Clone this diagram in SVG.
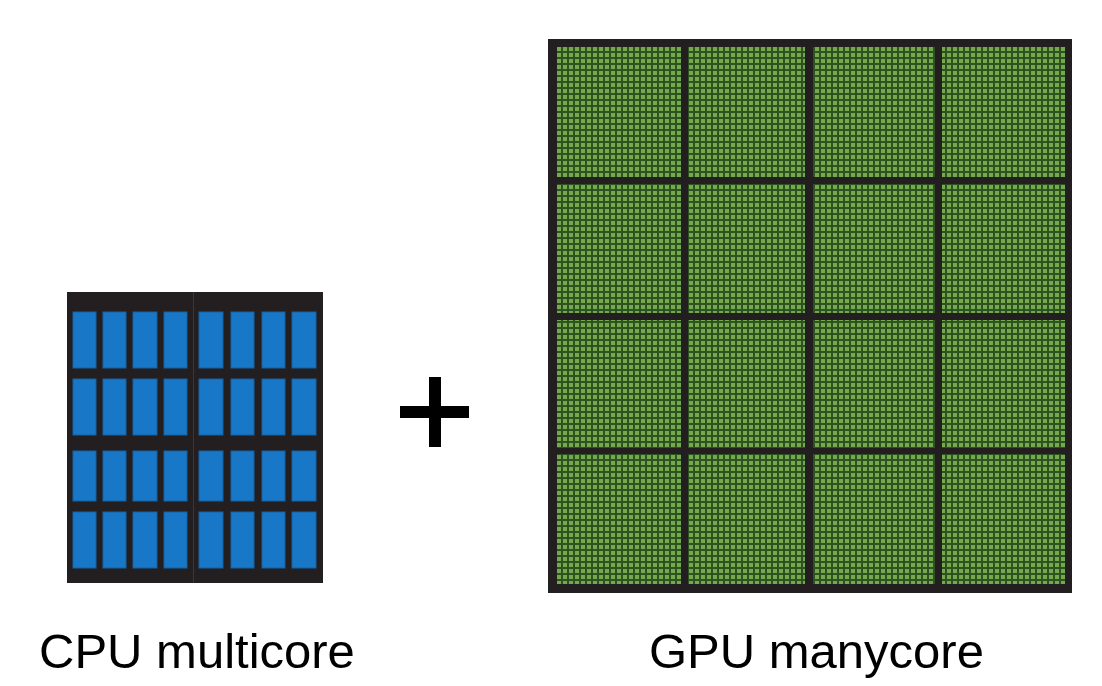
<svg xmlns="http://www.w3.org/2000/svg" width="1102" height="686" viewBox="0 0 1102 686">
<style>
.die{fill:#231f20}
.core{fill:#1877c6;stroke:#1462a3;stroke-width:1}
.sm{fill:url(#sm)}
.lbl{font-family:"Liberation Sans",Arial,sans-serif;font-size:49px;fill:#000}
</style>
<defs>
<pattern id="sm" x="557" y="47" width="6" height="6" patternUnits="userSpaceOnUse">
<rect width="6" height="6" fill="#2c5320"/>
<rect x="0" y="0" width="4" height="4" fill="#76a84e"/>
</pattern>
</defs>
<rect width="1102" height="686" fill="#fff"/>
<g id="cpu">
<rect class="die" x="67" y="292" width="256" height="291"/>
<line x1="193.5" y1="292" x2="193.5" y2="583" stroke="#3b3637" stroke-width="1"/>
<g>
<rect class="core" x="73" y="312" width="23" height="56"/><rect class="core" x="103" y="312" width="23" height="56"/><rect class="core" x="133" y="312" width="24" height="56"/><rect class="core" x="164" y="312" width="23" height="56"/>
<rect class="core" x="199" y="312" width="24" height="56"/><rect class="core" x="231" y="312" width="23" height="56"/><rect class="core" x="262" y="312" width="23" height="56"/><rect class="core" x="292" y="312" width="24" height="56"/>
<rect class="core" x="73" y="379" width="23" height="56"/><rect class="core" x="103" y="379" width="23" height="56"/><rect class="core" x="133" y="379" width="24" height="56"/><rect class="core" x="164" y="379" width="23" height="56"/>
<rect class="core" x="199" y="379" width="24" height="56"/><rect class="core" x="231" y="379" width="23" height="56"/><rect class="core" x="262" y="379" width="23" height="56"/><rect class="core" x="292" y="379" width="24" height="56"/>
<rect class="core" x="73" y="451" width="23" height="50"/><rect class="core" x="103" y="451" width="23" height="50"/><rect class="core" x="133" y="451" width="24" height="50"/><rect class="core" x="164" y="451" width="23" height="50"/>
<rect class="core" x="199" y="451" width="24" height="50"/><rect class="core" x="231" y="451" width="23" height="50"/><rect class="core" x="262" y="451" width="23" height="50"/><rect class="core" x="292" y="451" width="24" height="50"/>
<rect class="core" x="73" y="512" width="23" height="56"/><rect class="core" x="103" y="512" width="23" height="56"/><rect class="core" x="133" y="512" width="24" height="56"/><rect class="core" x="164" y="512" width="23" height="56"/>
<rect class="core" x="199" y="512" width="24" height="56"/><rect class="core" x="231" y="512" width="23" height="56"/><rect class="core" x="262" y="512" width="23" height="56"/><rect class="core" x="292" y="512" width="24" height="56"/>
</g>
</g>
<g id="plus">
<rect x="429" y="377" width="12" height="70" fill="#000"/>
<rect x="400" y="406" width="69" height="12" fill="#000"/>
</g>
<g id="gpu">
<rect class="die" x="548" y="39" width="524" height="554"/>
<rect class="sm" x="557" y="47" width="124" height="130"/><rect class="sm" x="688" y="47" width="117" height="130"/><rect class="sm" x="813" y="47" width="122" height="130"/><rect class="sm" x="942" y="47" width="123" height="130"/>
<rect class="sm" x="557" y="184" width="124" height="129"/><rect class="sm" x="688" y="184" width="117" height="129"/><rect class="sm" x="813" y="184" width="122" height="129"/><rect class="sm" x="942" y="184" width="123" height="129"/>
<rect class="sm" x="557" y="320" width="124" height="128"/><rect class="sm" x="688" y="320" width="117" height="128"/><rect class="sm" x="813" y="320" width="122" height="128"/><rect class="sm" x="942" y="320" width="123" height="128"/>
<rect class="sm" x="557" y="454" width="124" height="130"/><rect class="sm" x="688" y="454" width="117" height="130"/><rect class="sm" x="813" y="454" width="122" height="130"/><rect class="sm" x="942" y="454" width="123" height="130"/>
</g>
<g id="labels">
<text class="lbl" x="39" y="668">CPU multicore</text>
<text class="lbl" x="649" y="668">GPU manycore</text>
</g>
</svg>
